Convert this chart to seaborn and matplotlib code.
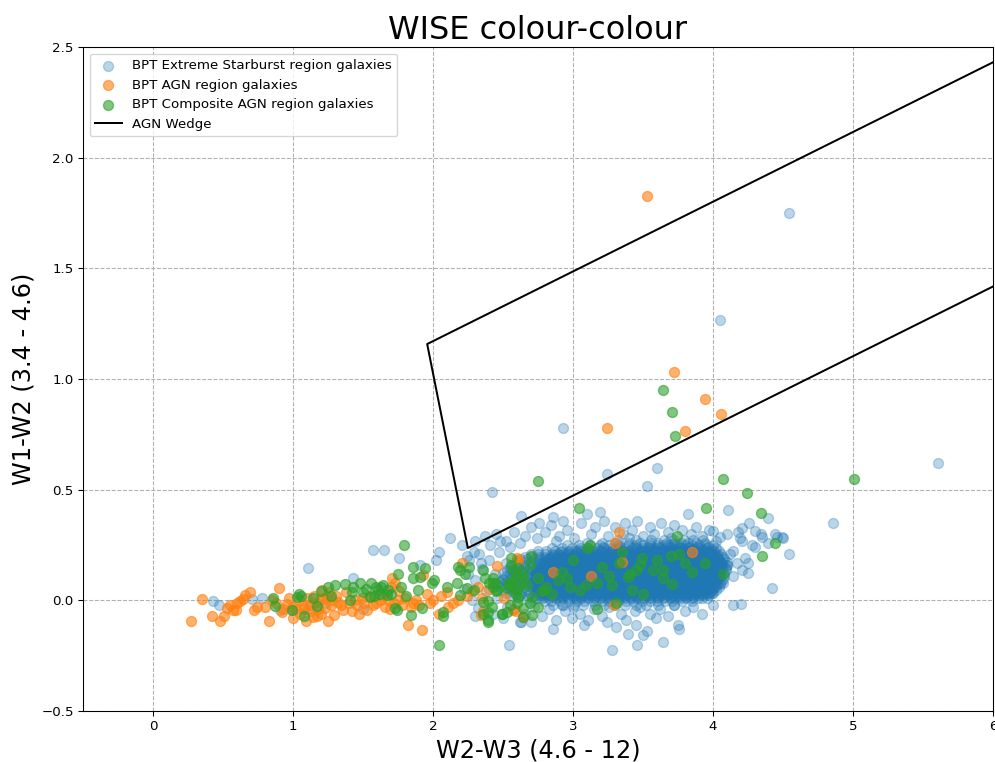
import matplotlib
matplotlib.use("Agg")
import matplotlib.pyplot as plt
import numpy as np
import pandas as pd
import seaborn as sns

# ---------------------------------------------------------------------------
# W2-W3 (x) and W1-W2 (y) colours per BPT class
# ---------------------------------------------------------------------------

# Star-forming locus: one list of W2-W3 values per W1-W2 level
starburst_core_levels = [-0.02, -0.005, 0.01, 0.022, 0.035, 0.048, 0.06, 0.073,
                         0.085, 0.098, 0.11, 0.123, 0.135, 0.148, 0.16, 0.173,
                         0.185, 0.198, 0.21, 0.223, 0.235, 0.248, 0.26, 0.273]
starburst_core_w23 = [
    [2.86, 2.93, 3.01, 3.07, 3.16, 3.22, 3.30, 3.37, 3.45, 3.52, 3.61, 3.72],
    [2.71, 2.79, 2.84, 2.91, 2.97, 3.03, 3.08, 3.14, 3.21, 3.26, 3.32, 3.38, 3.43, 3.49, 3.55, 3.60,
     3.66, 3.71, 3.78, 3.85],
    [2.61, 2.67, 2.74, 2.78, 2.83, 2.88, 2.92, 2.97, 3.02, 3.06, 3.11, 3.15, 3.19, 3.24, 3.28, 3.33,
     3.37, 3.42, 3.46, 3.51, 3.55, 3.60, 3.64, 3.69, 3.73, 3.77, 3.81, 3.85, 3.89, 3.92],
    [2.55, 2.62, 2.68, 2.73, 2.77, 2.81, 2.84, 2.88, 2.91, 2.95, 2.99, 3.02, 3.06, 3.09, 3.13, 3.17,
     3.20, 3.24, 3.27, 3.31, 3.35, 3.38, 3.42, 3.45, 3.49, 3.53, 3.56, 3.60, 3.63, 3.67, 3.71, 3.74,
     3.78, 3.81, 3.85, 3.89, 3.93, 3.97],
    [2.52, 2.58, 2.63, 2.69, 2.74, 2.78, 2.81, 2.85, 2.88, 2.91, 2.94, 2.97, 3.00, 3.03, 3.07, 3.10,
     3.13, 3.16, 3.19, 3.22, 3.26, 3.29, 3.32, 3.35, 3.38, 3.41, 3.44, 3.48, 3.51, 3.54, 3.57, 3.60,
     3.63, 3.66, 3.70, 3.73, 3.76, 3.79, 3.82, 3.85, 3.88, 3.91, 3.94, 3.97, 4.00],
    [2.50, 2.56, 2.61, 2.67, 2.72, 2.76, 2.80, 2.83, 2.86, 2.90, 2.92, 2.95, 2.99, 3.01, 3.04, 3.08,
     3.11, 3.13, 3.17, 3.20, 3.23, 3.25, 3.29, 3.32, 3.34, 3.38, 3.41, 3.44, 3.46, 3.50, 3.53, 3.55,
     3.59, 3.62, 3.65, 3.68, 3.71, 3.74, 3.77, 3.80, 3.83, 3.86, 3.89, 3.92, 3.95, 3.99, 4.02],
    [2.48, 2.54, 2.59, 2.65, 2.70, 2.75, 2.79, 2.82, 2.84, 2.88, 2.91, 2.93, 2.97, 3.00, 3.02, 3.05,
     3.09, 3.12, 3.14, 3.18, 3.21, 3.24, 3.27, 3.30, 3.33, 3.36, 3.39, 3.42, 3.45, 3.47, 3.51, 3.54,
     3.56, 3.60, 3.63, 3.66, 3.69, 3.72, 3.75, 3.78, 3.81, 3.84, 3.87, 3.90, 3.93, 3.96, 4.00, 4.04],
    [2.50, 2.55, 2.61, 2.66, 2.71, 2.74, 2.78, 2.81, 2.85, 2.87, 2.90, 2.94, 2.96, 2.99, 3.03, 3.06,
     3.08, 3.11, 3.15, 3.17, 3.20, 3.23, 3.26, 3.28, 3.31, 3.35, 3.37, 3.40, 3.43, 3.46, 3.49, 3.52,
     3.55, 3.58, 3.61, 3.64, 3.67, 3.70, 3.73, 3.76, 3.79, 3.82, 3.85, 3.88, 3.91, 3.94, 3.97, 4.01,
     4.05],
    [2.48, 2.53, 2.58, 2.63, 2.68, 2.72, 2.76, 2.79, 2.83, 2.86, 2.89, 2.92, 2.95, 2.98, 3.01, 3.04,
     3.07, 3.10, 3.13, 3.16, 3.19, 3.22, 3.25, 3.29, 3.32, 3.34, 3.38, 3.41, 3.44, 3.47, 3.50, 3.53,
     3.57, 3.59, 3.62, 3.66, 3.68, 3.71, 3.74, 3.77, 3.80, 3.83, 3.86, 3.89, 3.92, 3.95, 3.99, 4.02,
     4.06],
    [2.50, 2.56, 2.60, 2.65, 2.70, 2.73, 2.77, 2.80, 2.84, 2.87, 2.90, 2.93, 2.96, 2.99, 3.02, 3.05,
     3.09, 3.11, 3.14, 3.18, 3.21, 3.24, 3.27, 3.30, 3.33, 3.36, 3.39, 3.42, 3.45, 3.48, 3.51, 3.54,
     3.58, 3.61, 3.63, 3.67, 3.70, 3.72, 3.76, 3.79, 3.82, 3.84, 3.88, 3.91, 3.93, 3.96, 4.00, 4.03,
     4.07],
    [2.52, 2.57, 2.62, 2.67, 2.71, 2.75, 2.78, 2.82, 2.85, 2.88, 2.91, 2.94, 2.97, 3.00, 3.03, 3.06,
     3.10, 3.12, 3.16, 3.19, 3.22, 3.25, 3.28, 3.31, 3.34, 3.37, 3.40, 3.43, 3.46, 3.49, 3.52, 3.56,
     3.59, 3.62, 3.65, 3.68, 3.71, 3.74, 3.77, 3.80, 3.83, 3.86, 3.89, 3.92, 3.95, 3.98, 4.01, 4.05,
     4.08],
    [2.50, 2.55, 2.60, 2.64, 2.69, 2.73, 2.76, 2.80, 2.83, 2.86, 2.89, 2.92, 2.96, 2.98, 3.01, 3.05,
     3.08, 3.11, 3.13, 3.17, 3.20, 3.23, 3.26, 3.29, 3.32, 3.35, 3.38, 3.41, 3.44, 3.48, 3.50, 3.53,
     3.57, 3.60, 3.63, 3.66, 3.69, 3.72, 3.75, 3.78, 3.81, 3.85, 3.87, 3.90, 3.94, 3.97, 4.00, 4.04,
     4.08],
    [2.53, 2.58, 2.63, 2.68, 2.72, 2.75, 2.79, 2.82, 2.85, 2.88, 2.91, 2.95, 2.97, 3.00, 3.04, 3.07,
     3.10, 3.13, 3.15, 3.19, 3.22, 3.24, 3.28, 3.31, 3.34, 3.37, 3.40, 3.43, 3.46, 3.49, 3.52, 3.55,
     3.58, 3.61, 3.64, 3.67, 3.70, 3.73, 3.76, 3.79, 3.83, 3.86, 3.88, 3.91, 3.95, 3.98, 4.02, 4.05,
     4.09],
    [2.55, 2.60, 2.65, 2.70, 2.74, 2.77, 2.81, 2.84, 2.87, 2.90, 2.93, 2.96, 2.99, 3.02, 3.05, 3.08,
     3.11, 3.14, 3.17, 3.20, 3.23, 3.26, 3.30, 3.33, 3.36, 3.39, 3.42, 3.45, 3.47, 3.51, 3.54, 3.57,
     3.60, 3.63, 3.66, 3.69, 3.72, 3.75, 3.78, 3.81, 3.84, 3.87, 3.90, 3.93, 3.96, 3.99, 4.03, 4.06,
     4.09],
    [2.56, 2.61, 2.66, 2.71, 2.75, 2.79, 2.82, 2.86, 2.89, 2.92, 2.95, 2.98, 3.01, 3.04, 3.07, 3.10,
     3.13, 3.16, 3.19, 3.22, 3.25, 3.28, 3.31, 3.34, 3.37, 3.40, 3.43, 3.46, 3.50, 3.53, 3.56, 3.59,
     3.62, 3.65, 3.68, 3.71, 3.74, 3.77, 3.80, 3.83, 3.86, 3.89, 3.92, 3.95, 3.98, 4.01, 4.04, 4.07,
     4.10],
    [2.60, 2.65, 2.70, 2.74, 2.78, 2.81, 2.84, 2.88, 2.91, 2.94, 2.97, 3.00, 3.03, 3.06, 3.09, 3.12,
     3.15, 3.18, 3.21, 3.24, 3.27, 3.30, 3.33, 3.36, 3.39, 3.42, 3.45, 3.48, 3.51, 3.54, 3.57, 3.61,
     3.64, 3.67, 3.70, 3.73, 3.76, 3.79, 3.82, 3.85, 3.88, 3.91, 3.94, 3.97, 4.00, 4.03, 4.06, 4.10],
    [2.62, 2.67, 2.72, 2.76, 2.80, 2.83, 2.87, 2.90, 2.93, 2.96, 2.99, 3.02, 3.05, 3.08, 3.11, 3.14,
     3.17, 3.20, 3.23, 3.26, 3.29, 3.32, 3.35, 3.38, 3.41, 3.44, 3.47, 3.50, 3.53, 3.56, 3.59, 3.62,
     3.65, 3.68, 3.71, 3.74, 3.77, 3.80, 3.83, 3.86, 3.89, 3.92, 3.95, 3.98, 4.01, 4.04, 4.08],
    [2.66, 2.71, 2.76, 2.80, 2.84, 2.88, 2.92, 2.95, 2.98, 3.01, 3.05, 3.08, 3.11, 3.14, 3.17, 3.20,
     3.24, 3.27, 3.30, 3.33, 3.36, 3.39, 3.42, 3.45, 3.48, 3.51, 3.54, 3.57, 3.60, 3.63, 3.66, 3.69,
     3.72, 3.75, 3.78, 3.81, 3.84, 3.87, 3.90, 3.93, 3.96, 4.00, 4.03, 4.07],
    [2.70, 2.75, 2.80, 2.85, 2.89, 2.93, 2.97, 3.00, 3.04, 3.08, 3.11, 3.15, 3.18, 3.22, 3.25, 3.28,
     3.32, 3.35, 3.38, 3.42, 3.45, 3.48, 3.51, 3.54, 3.57, 3.60, 3.63, 3.66, 3.69, 3.72, 3.75, 3.78,
     3.81, 3.84, 3.87, 3.90, 3.93, 3.97, 4.01, 4.06],
    [2.75, 2.81, 2.87, 2.92, 2.97, 3.02, 3.06, 3.11, 3.15, 3.20, 3.24, 3.28, 3.32, 3.36, 3.40, 3.44,
     3.48, 3.51, 3.54, 3.58, 3.61, 3.64, 3.67, 3.70, 3.73, 3.76, 3.79, 3.82, 3.85, 3.88, 3.92, 3.96,
     4.00, 4.04],
    [2.85, 2.92, 2.99, 3.05, 3.11, 3.17, 3.22, 3.27, 3.32, 3.37, 3.42, 3.46, 3.50, 3.54, 3.58, 3.62,
     3.65, 3.69, 3.72, 3.76, 3.79, 3.83, 3.87, 3.91, 3.96, 4.02],
    [2.96, 3.04, 3.12, 3.19, 3.26, 3.33, 3.39, 3.45, 3.50, 3.55, 3.60, 3.64, 3.68, 3.72, 3.76, 3.80,
     3.85, 3.90, 3.95, 4.00],
    [3.10, 3.21, 3.31, 3.40, 3.48, 3.55, 3.61, 3.67, 3.72, 3.77, 3.82, 3.88, 3.94],
    [3.32, 3.45, 3.56, 3.65, 3.72, 3.79, 3.86, 3.93],
]

# Densest part of the locus, between the levels above
starburst_dense_levels = [0.016, 0.029, 0.041, 0.054, 0.067, 0.079, 0.092, 0.104, 0.117, 0.129,
                          0.142, 0.154, 0.167, 0.179, 0.192, 0.204, 0.217, 0.229, 0.242]
starburst_dense_w23 = [
    [2.795, 2.855, 2.905, 2.955, 3.005, 3.055, 3.105, 3.155, 3.205, 3.255, 3.305, 3.355, 3.405,
     3.455, 3.505, 3.555, 3.605, 3.655, 3.705, 3.755, 3.805, 3.86],
    [2.765, 2.81, 2.845, 2.89, 2.925, 2.965, 3.005, 3.045, 3.085, 3.12, 3.16, 3.195, 3.235, 3.275,
     3.31, 3.35, 3.385, 3.425, 3.465, 3.50, 3.54, 3.575, 3.615, 3.655, 3.69, 3.73, 3.765, 3.805,
     3.845, 3.88, 3.92, 3.955],
    [2.745, 2.795, 2.835, 2.875, 2.915, 2.955, 2.99, 3.03, 3.07, 3.105, 3.145, 3.185, 3.22, 3.26,
     3.30, 3.335, 3.375, 3.415, 3.45, 3.49, 3.53, 3.565, 3.605, 3.645, 3.68, 3.72, 3.76, 3.795,
     3.835, 3.875, 3.91, 3.95, 3.985],
    [2.735, 2.775, 2.815, 2.855, 2.895, 2.935, 2.975, 3.015, 3.055, 3.095, 3.135, 3.175, 3.215,
     3.255, 3.295, 3.335, 3.375, 3.415, 3.455, 3.495, 3.535, 3.575, 3.615, 3.655, 3.695, 3.735,
     3.775, 3.815, 3.855, 3.895, 3.935, 3.975, 4.01],
    [2.725, 2.765, 2.805, 2.85, 2.885, 2.925, 2.965, 3.005, 3.045, 3.085, 3.125, 3.165, 3.205,
     3.245, 3.285, 3.325, 3.365, 3.405, 3.445, 3.485, 3.525, 3.565, 3.605, 3.645, 3.685, 3.725,
     3.765, 3.805, 3.845, 3.885, 3.925, 3.965, 4.02],
    [2.715, 2.755, 2.795, 2.835, 2.875, 2.915, 2.955, 2.995, 3.035, 3.075, 3.115, 3.155, 3.195,
     3.235, 3.275, 3.315, 3.355, 3.395, 3.435, 3.475, 3.515, 3.555, 3.595, 3.635, 3.675, 3.715,
     3.755, 3.795, 3.835, 3.875, 3.915, 3.955, 3.995, 4.035],
    [2.745, 2.785, 2.825, 2.865, 2.905, 2.945, 2.985, 3.025, 3.065, 3.105, 3.145, 3.185, 3.225,
     3.265, 3.305, 3.345, 3.385, 3.425, 3.465, 3.505, 3.545, 3.585, 3.625, 3.665, 3.705, 3.745,
     3.785, 3.825, 3.865, 3.905, 3.945, 3.985, 4.03],
    [2.725, 2.77, 2.805, 2.845, 2.885, 2.925, 2.965, 3.005, 3.045, 3.085, 3.125, 3.165, 3.205,
     3.245, 3.285, 3.325, 3.365, 3.405, 3.445, 3.485, 3.525, 3.565, 3.605, 3.645, 3.685, 3.725,
     3.765, 3.805, 3.845, 3.885, 3.925, 3.965, 4.005, 4.045],
    [2.735, 2.775, 2.815, 2.855, 2.895, 2.935, 2.975, 3.015, 3.055, 3.095, 3.135, 3.175, 3.215,
     3.255, 3.295, 3.335, 3.375, 3.415, 3.455, 3.495, 3.535, 3.575, 3.615, 3.655, 3.695, 3.735,
     3.775, 3.815, 3.855, 3.895, 3.935, 3.975, 4.015, 4.055],
    [2.745, 2.795, 2.835, 2.875, 2.915, 2.955, 2.995, 3.035, 3.075, 3.115, 3.155, 3.195, 3.235,
     3.275, 3.315, 3.355, 3.395, 3.435, 3.475, 3.515, 3.555, 3.595, 3.635, 3.675, 3.715, 3.755,
     3.795, 3.835, 3.875, 3.915, 3.955, 3.995, 4.035],
    [2.765, 2.805, 2.845, 2.885, 2.925, 2.965, 3.005, 3.045, 3.085, 3.125, 3.165, 3.205, 3.245,
     3.285, 3.325, 3.365, 3.405, 3.445, 3.485, 3.525, 3.565, 3.605, 3.645, 3.685, 3.725, 3.765,
     3.805, 3.845, 3.885, 3.925, 3.965, 4.005, 4.045],
    [2.775, 2.815, 2.855, 2.895, 2.935, 2.975, 3.015, 3.055, 3.095, 3.135, 3.175, 3.215, 3.255,
     3.295, 3.335, 3.375, 3.415, 3.455, 3.495, 3.535, 3.575, 3.615, 3.655, 3.695, 3.735, 3.775,
     3.815, 3.855, 3.895, 3.935, 3.975, 4.015, 4.055],
    [2.785, 2.825, 2.865, 2.905, 2.945, 2.985, 3.025, 3.065, 3.105, 3.145, 3.185, 3.225, 3.265,
     3.305, 3.345, 3.385, 3.425, 3.465, 3.505, 3.545, 3.585, 3.625, 3.665, 3.705, 3.745, 3.785,
     3.825, 3.865, 3.905, 3.945, 3.985, 4.025, 4.065],
    [2.805, 2.845, 2.885, 2.925, 2.965, 3.005, 3.045, 3.085, 3.125, 3.165, 3.205, 3.245, 3.285,
     3.325, 3.365, 3.405, 3.445, 3.485, 3.525, 3.565, 3.605, 3.645, 3.685, 3.725, 3.765, 3.805,
     3.845, 3.885, 3.925, 3.965, 4.005, 4.045],
    [2.825, 2.865, 2.905, 2.945, 2.985, 3.025, 3.065, 3.105, 3.145, 3.185, 3.225, 3.265, 3.305,
     3.345, 3.385, 3.425, 3.465, 3.505, 3.545, 3.585, 3.625, 3.665, 3.705, 3.745, 3.785, 3.825,
     3.865, 3.905, 3.945, 3.985, 4.03],
    [2.855, 2.905, 2.955, 3.005, 3.055, 3.105, 3.155, 3.205, 3.255, 3.305, 3.355, 3.395, 3.435,
     3.475, 3.515, 3.555, 3.595, 3.635, 3.675, 3.715, 3.755, 3.795, 3.835, 3.875, 3.915, 3.955,
     3.995, 4.035],
    [2.905, 2.965, 3.025, 3.085, 3.145, 3.205, 3.265, 3.325, 3.385, 3.435, 3.485, 3.535, 3.575,
     3.615, 3.655, 3.695, 3.735, 3.775, 3.815, 3.855, 3.895, 3.935, 3.975, 4.015],
    [3.035, 3.115, 3.195, 3.275, 3.345, 3.415, 3.475, 3.535, 3.585, 3.635, 3.685, 3.735, 3.785,
     3.835, 3.885, 3.935, 3.985],
    [3.215, 3.335, 3.445, 3.535, 3.615, 3.685, 3.755, 3.825, 3.895, 3.965],
]

# Star-forming galaxies outside the dense locus (W2-W3, W1-W2)
starburst_sparse = [
    (5.61, 0.62), (4.86, 0.35), (4.54, 0.21), (4.42, 0.055), (4.14, -0.02), (4.20, -0.015),
    (4.11, 0.41), (4.39, 0.37), (4.26, 0.35), (4.50, 0.28), (4.44, 0.30), (4.54, 1.75),
    (4.05, 1.265), (2.93, 0.777), (3.60, 0.596), (3.24, 0.57), (3.53, 0.515), (2.42, 0.49),
    (3.82, 0.39), (2.63, 0.38), (3.19, 0.40), (2.12, 0.28), (2.76, 0.35), (2.86, 0.375),
    (2.93, 0.357), (3.10, 0.39), (3.37, 0.35), (4.49, 0.285),
    (1.11, 0.145), (1.57, 0.226), (1.65, 0.226), (1.76, 0.19), (1.91, 0.16), (2.04, 0.22),
    (2.02, 0.18), (1.43, 0.10), (0.43, -0.005), (0.47, -0.02), (0.71, 0.005), (0.78, 0.01),
    (0.91, -0.045), (0.99, -0.045), (1.11, -0.04), (1.23, -0.01), (1.50, -0.04), (2.30, -0.07),
    (2.32, -0.035), (2.54, -0.20), (2.62, -0.10), (2.21, 0.25), (2.24, 0.20), (2.29, 0.22),
    (2.34, 0.17),
    (3.28, -0.225), (3.46, -0.20), (3.64, -0.19), (3.50, -0.155), (3.53, -0.14), (3.76, -0.13),
    (3.75, -0.11), (3.39, -0.15), (2.86, -0.13), (3.31, -0.12), (2.99, -0.08), (3.59, -0.08),
    (2.63, -0.10),
    (4.21, 0.325), (4.30, 0.315), (4.34, 0.30), (4.19, 0.28), (4.21, 0.27), (4.28, 0.25),
    (4.30, 0.24), (4.23, 0.19), (4.25, 0.17), (4.25, 0.125), (4.14, 0.11), (4.07, 0.08),
    (3.99, 0.035), (3.96, 0.01), (4.14, 0.225), (4.12, 0.21), (4.17, 0.17), (4.39, 0.26),
    (4.35, 0.285), (4.46, 0.285), (4.21, 0.135), (4.10, 0.16), (4.05, 0.285), (4.10, 0.30),
    (4.00, 0.315), (4.18, 0.31),
    (2.45, 0.30), (2.52, 0.27), (2.58, 0.31), (2.66, 0.29), (2.70, 0.33), (2.74, 0.28),
    (2.80, 0.31), (2.84, 0.34), (2.90, 0.29), (2.96, 0.32), (3.01, 0.28), (3.06, 0.35),
    (3.13, 0.30), (3.16, 0.33), (3.22, 0.36), (3.25, 0.29), (3.30, 0.33), (3.36, 0.30),
    (3.42, 0.32), (3.46, 0.36), (3.50, 0.29), (3.55, 0.33), (3.58, 0.30), (3.63, 0.35),
    (3.68, 0.31), (3.72, 0.34), (3.78, 0.32), (3.84, 0.30), (3.88, 0.33), (3.92, 0.29),
    (3.97, 0.32), (4.02, 0.27), (2.62, 0.26), (2.88, 0.27), (3.40, 0.28), (3.70, 0.28),
    (2.58, -0.04), (2.66, -0.06), (2.72, -0.03), (2.78, -0.07), (2.83, -0.04), (2.88, -0.09),
    (2.94, -0.05), (3.00, -0.03), (3.05, -0.06), (3.11, -0.09), (3.15, -0.04), (3.21, -0.07),
    (3.26, -0.03), (3.34, -0.06), (3.38, -0.09), (3.44, -0.05), (3.48, -0.03), (3.55, -0.06),
    (3.62, -0.04), (3.68, -0.07), (3.72, -0.02), (3.80, -0.05), (3.86, -0.03), (3.92, -0.06),
    (4.00, -0.02), (2.70, -0.10), (3.08, -0.11), (3.45, -0.11), (3.24, -0.10), (2.92, -0.02),
    (2.22, 0.05), (2.25, 0.12), (2.28, 0.00), (2.30, 0.09), (2.33, 0.21), (2.35, 0.14),
    (2.38, 0.04), (2.40, 0.18), (2.41, 0.25), (2.44, 0.12), (2.46, 0.01), (2.47, 0.22),
    (2.50, 0.09), (2.52, 0.17), (2.53, -0.03), (2.55, 0.24), (2.57, 0.13), (2.58, 0.05),
    (2.48, 0.27), (2.37, 0.29), (2.30, 0.27), (2.26, 0.18), (2.43, -0.06), (2.50, -0.08),
]

# AGN-classified galaxies (W2-W3, W1-W2)
agn_points = [
    (0.27, -0.095), (0.35, 0.005), (0.42, -0.07), (0.48, -0.095), (0.51, -0.07), (0.53, -0.035),
    (0.57, -0.045), (0.59, -0.045), (0.60, -0.01), (0.64, 0.008), (0.66, 0.022), (0.69, 0.036),
    (0.55, -0.02), (0.62, -0.005),
    (0.72, -0.045), (0.80, -0.03), (0.83, -0.095), (0.90, 0.054), (0.85, 0.0), (0.92, -0.054),
    (0.96, -0.018), (0.74, -0.03), (0.88, -0.01), (0.97, 0.01), (0.99, -0.03), (0.93, -0.04),
    (1.00, -0.08), (1.04, 0.0), (1.09, -0.095), (1.12, -0.023), (1.17, -0.072), (1.21, 0.045),
    (1.22, 0.009), (1.23, -0.036), (1.25, -0.095), (1.26, 0.036), (1.29, -0.068), (1.02, -0.04),
    (1.05, -0.06), (1.07, -0.02), (1.10, 0.01), (1.13, -0.05), (1.15, 0.02), (1.16, -0.01),
    (1.18, -0.04), (1.19, 0.0), (1.20, -0.06), (1.24, 0.015), (1.27, -0.02), (1.28, 0.0),
    (1.14, -0.075), (1.08, -0.04),
    (1.32, -0.009), (1.36, -0.045), (1.38, 0.036), (1.46, -0.023), (1.49, 0.009), (1.53, -0.045),
    (1.57, -0.023), (1.34, -0.02), (1.40, -0.01), (1.42, -0.05), (1.44, 0.0), (1.51, -0.01),
    (1.55, 0.02), (1.59, -0.01), (1.31, 0.02), (1.47, -0.06),
    (1.62, 0.0), (1.66, -0.03), (1.71, 0.10), (1.72, -0.014), (1.75, 0.0), (1.82, -0.11),
    (1.86, -0.01), (1.92, -0.135), (1.93, 0.113), (1.96, 0.03), (1.64, 0.02), (1.68, 0.0),
    (1.70, 0.06), (1.73, 0.08), (1.78, -0.02), (1.80, 0.01), (1.84, -0.03), (1.88, 0.0),
    (1.90, -0.02), (1.98, -0.01), (1.69, -0.04), (1.76, 0.04),
    (2.00, 0.0), (2.04, -0.06), (2.10, 0.036), (2.11, -0.03), (2.18, 0.0), (2.21, 0.167),
    (2.34, -0.068), (2.35, 0.009), (2.46, 0.155), (2.57, -0.045), (2.60, 0.19), (2.06, 0.02),
    (2.14, -0.01), (2.24, 0.02), (2.28, 0.04), (2.32, 0.06), (2.40, 0.05), (2.51, 0.01),
    (2.59, -0.05), (2.64, -0.075), (2.36, -0.05),
    (2.61, 0.18), (2.86, 0.13), (3.13, 0.11), (3.33, 0.31), (3.30, 0.26), (3.35, 0.175),
    (3.85, 0.22), (3.29, -0.02),
    (3.53, 1.825), (3.72, 1.03), (3.94, 0.908), (4.06, 0.84), (3.80, 0.763), (3.24, 0.78),
]

# Composite (starburst + AGN) galaxies (W2-W3, W1-W2)
composite_points = [
    (0.86, 0.009), (0.87, -0.025), (0.99, -0.045), (1.04, 0.03), (1.03, 0.014), (1.17, -0.027),
    (1.08, -0.07), (1.06, 0.02), (1.14, 0.01), (1.20, 0.04), (1.25, 0.06), (1.27, 0.02),
    (1.30, 0.068), (1.37, 0.072), (1.43, 0.06), (1.42, 0.036), (1.41, 0.0), (1.48, 0.077),
    (1.50, 0.036), (1.56, 0.077), (1.59, 0.06), (1.55, 0.014), (1.61, 0.045), (1.64, 0.068),
    (1.62, 0.03), (1.67, 0.023), (1.68, 0.045), (1.73, -0.036), (1.74, -0.045), (1.75, 0.12),
    (1.79, 0.25), (1.84, -0.068), (1.86, 0.15), (1.86, 0.10), (1.89, 0.045), (1.91, 0.104),
    (1.92, -0.036), (1.94, 0.145), (1.99, 0.077), (2.01, 0.09), (2.04, -0.20), (2.07, -0.072),
    (2.07, -0.054), (2.10, 0.06), (2.17, 0.077), (2.18, 0.15), (2.24, 0.054), (2.19, 0.023),
    (2.26, 0.15), (2.29, 0.045), (2.39, -0.054), (2.39, -0.10), (2.36, -0.009), (2.49, -0.06),
    (2.64, -0.077), (2.71, -0.068), (2.19, 0.135), (2.23, 0.12), (2.36, 0.135), (2.43, 0.077),
    (2.46, 0.045), (2.55, 0.077), (2.57, 0.135), (2.61, 0.014), (2.64, 0.12), (2.69, 0.158),
    (2.67, 0.068), (2.71, 0.014), (1.52, 0.05), (1.58, 0.02), (1.63, 0.06), (1.70, 0.03),
    (1.77, 0.06), (1.81, 0.02),
    (2.75, 0.54), (3.04, 0.416), (3.74, 0.29), (3.76, 0.21), (3.94, 0.167), (3.49, 0.19),
    (3.48, 0.16), (3.45, 0.135), (3.35, 0.22), (3.57, 0.135), (3.64, 0.135), (3.64, 0.10),
    (3.71, 0.076), (3.41, 0.12), (3.39, 0.105), (3.21, 0.15), (3.26, 0.11), (3.28, 0.068),
    (3.42, 0.045), (3.50, 0.03), (3.12, 0.25), (3.10, 0.235), (3.17, 0.077), (3.09, 0.068),
    (3.05, 0.045), (2.96, 0.10), (2.98, 0.06), (2.89, 0.09), (2.81, 0.06), (2.75, 0.10),
    (2.78, 0.04), (3.17, -0.04), (3.31, -0.01), (2.56, 0.16), (2.60, 0.11), (2.63, 0.07),
    (2.56, 0.06), (2.53, 0.055), (2.59, 0.03), (2.45, 0.08), (2.45, 0.04), (2.40, 0.08),
    (2.39, -0.005), (2.42, -0.03), (2.55, -0.02), (2.60, -0.01), (2.69, -0.01), (2.75, -0.03),
    (4.07, 0.12), (3.80, 0.17), (3.70, 0.20), (3.33, 0.17), (3.60, 0.18), (3.85, 0.13),
    (2.92, 0.13), (3.00, 0.18), (2.70, 0.20), (2.85, 0.03),
    (2.56, 0.19), (2.61, 0.145), (2.64, 0.10), (2.57, 0.09), (2.54, 0.077), (2.60, 0.045),
    (2.43, 0.10), (2.43, 0.06), (2.37, 0.10), (2.36, -0.06), (2.39, -0.09), (2.49, -0.06),
    (2.53, -0.054), (2.64, -0.036), (2.79, 0.045),
    (3.64, 0.949), (3.71, 0.85), (3.73, 0.741), (4.07, 0.55), (4.24, 0.483), (4.34, 0.393),
    (3.95, 0.416), (5.01, 0.547), (4.44, 0.258), (4.35, 0.20),
]

# Mateos-style AGN wedge: two parallel lines joined by a steep left edge
wedge_slope = 0.315
wedge_upper_icpt = 0.541
wedge_lower_icpt = -0.472
wedge_left_slope = -3.172
wedge_left_icpt = 7.37
wedge_x_end = 6.5

series_labels = ["BPT Extreme Starburst region galaxies",
                 "BPT AGN region galaxies",
                 "BPT Composite AGN region galaxies",
                 "AGN Wedge"]
series_colors = ["#1f77b4", "#ff7f0e", "#2ca02c"]
series_alpha = [0.3, 0.6, 0.6]

# ---------------------------------------------------------------------------
# Tables
# ---------------------------------------------------------------------------
def expand_levels(levels, rows):
    xs = [x for row in rows for x in row]
    ys = [y for y, row in zip(levels, rows) for _ in row]
    return xs, ys


core_x, core_y = expand_levels(starburst_core_levels, starburst_core_w23)
dense_x, dense_y = expand_levels(starburst_dense_levels, starburst_dense_w23)
sb_df = pd.DataFrame({
    "w23": core_x + dense_x + [p[0] for p in starburst_sparse],
    "w12": core_y + dense_y + [p[1] for p in starburst_sparse],
})
agn_df = pd.DataFrame(agn_points, columns=["w23", "w12"])
comp_df = pd.DataFrame(composite_points, columns=["w23", "w12"])

# Wedge corners from the intersections of the three lines
x_top = (wedge_left_icpt - wedge_upper_icpt) / (wedge_slope - wedge_left_slope)
x_bot = (wedge_left_icpt - wedge_lower_icpt) / (wedge_slope - wedge_left_slope)
wedge_x = [wedge_x_end, x_top, x_bot, wedge_x_end]
wedge_y = [wedge_slope * wedge_x_end + wedge_upper_icpt,
           wedge_slope * x_top + wedge_upper_icpt,
           wedge_slope * x_bot + wedge_lower_icpt,
           wedge_slope * wedge_x_end + wedge_lower_icpt]

# ---------------------------------------------------------------------------
# Figure
# ---------------------------------------------------------------------------
DPI = 96
fig = plt.figure(figsize=(995 / DPI, 762 / DPI), dpi=DPI, facecolor="white")
ax = fig.add_axes([83 / 995, 51 / 762, 910 / 995, 664 / 762])

for df, lab, col, a in zip([sb_df, agn_df, comp_df], series_labels[:3], series_colors, series_alpha):
    sns.scatterplot(data=df, x="w23", y="w12", color=col, alpha=a, s=56,
                    edgecolor="face", linewidth=1.0, label=lab, legend=False, ax=ax)

ax.plot(wedge_x, wedge_y, color="black", linewidth=1.5, label=series_labels[3])

ax.set_xlim(-0.5, 6)
ax.set_ylim(-0.5, 2.5)
ax.set_xticks([0, 1, 2, 3, 4, 5, 6])
ax.set_yticks([-0.5, 0.0, 0.5, 1.0, 1.5, 2.0, 2.5])
ax.grid(True, linestyle="--", color="#b0b0b0", linewidth=0.8)
ax.set_axisbelow(True)

ax.set_title("WISE colour-colour", fontsize=24)
ax.set_xlabel("W2-W3 (4.6 - 12)", fontsize=18)
ax.set_ylabel("W1-W2 (3.4 - 4.6)", fontsize=18)
ax.tick_params(labelsize=10)
ax.legend(loc="upper left", fontsize=10)

fig.savefig("out.png", dpi=DPI)
